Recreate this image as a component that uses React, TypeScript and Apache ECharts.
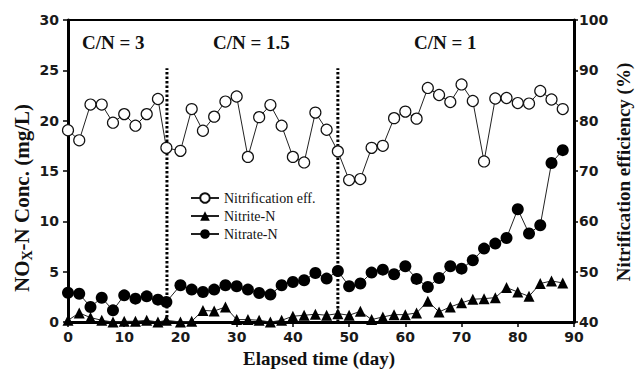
import React, { useEffect, useRef } from "react";
import * as echarts from "echarts";

const days = [0, 2, 4, 6, 8, 10, 12, 14, 16, 17.5, 20, 22, 24, 26, 28, 30, 32, 34, 36, 38, 40, 42, 44, 46, 48, 50, 52, 54, 56, 58, 60, 62, 64, 66, 68, 70, 72, 74, 76, 78, 80, 82, 84, 86, 88];
const efficiency = [78.1, 76.1, 83.2, 83.2, 79.6, 81.3, 79.0, 81.3, 84.3, 74.6, 74.0, 82.3, 78.0, 80.8, 83.8, 84.8, 72.8, 80.7, 83.1, 79.0, 72.8, 71.7, 81.6, 78.2, 73.9, 68.2, 68.4, 74.6, 75.0, 80.5, 81.8, 80.4, 86.5, 85.1, 83.7, 87.2, 83.9, 71.9, 84.4, 84.5, 83.5, 83.4, 85.9, 84.2, 82.3];
const nitrite = [0.17, 0.9, 0.44, 0.17, 0.0, 0.07, 0.07, 0.17, 0.0, 0.17, 0.0, 0.07, 1.15, 1.09, 1.49, 0.24, 0.24, 0.17, 0.0, 0.17, 0.57, 0.67, 0.77, 0.67, 0.83, 0.67, 1.06, 0.24, 0.5, 0.73, 0.73, 0.9, 2.06, 1.0, 1.5, 1.9, 2.26, 2.32, 2.42, 3.42, 2.98, 2.55, 3.82, 4.08, 3.88];
const nitrate = [2.9, 2.8, 1.49, 2.41, 1.16, 2.65, 2.32, 2.55, 2.22, 1.99, 3.65, 3.22, 2.98, 3.22, 3.65, 3.55, 3.22, 2.88, 2.72, 3.65, 3.98, 4.15, 4.87, 4.31, 5.07, 3.55, 3.82, 4.91, 5.2, 4.74, 5.54, 4.28, 3.48, 4.37, 5.54, 5.3, 6.13, 7.29, 7.79, 8.35, 11.2, 8.79, 9.61, 15.8, 17.07];
const phaseBoundaries = [17.6, 48];
const boundaryTop = 25.2;
const phaseLabels = ["C/N = 3", "C/N = 1.5", "C/N = 1"];
const seriesNames = ["Nitrification eff.", "Nitrite-N", "Nitrate-N"];

const SERIF = "'Liberation Serif', 'Times New Roman', serif";
const SANS = "'DejaVu Sans', sans-serif";

export default function App() {
  const ref = useRef<HTMLDivElement>(null);
  useEffect(() => {
    if (!ref.current) return;
    const chart = echarts.init(ref.current, undefined, { renderer: "svg" });
    const axisLabel = { fontFamily: SANS, fontWeight: "bold", fontSize: 14, color: "#1a1a1a" };
    const pair = (ys: number[]) => days.map((d, i) => [d, ys[i]]);
    const labelX = [82, 213, 414];
    const option: any = {
      animation: false,
      grid: { left: 68, right: 61, top: 20, bottom: 47, show: true, borderColor: "#000", borderWidth: 2, backgroundColor: "transparent" },
      legend: {
        orient: "vertical",
        left: 185,
        top: 186,
        itemWidth: 28,
        itemHeight: 12,
        itemGap: 4,
        data: seriesNames,
        textStyle: { fontFamily: SERIF, fontSize: 14, color: "#111" },
      },
      xAxis: {
        type: "value",
        min: 0,
        max: 90,
        interval: 10,
        splitLine: { show: false },
        axisLine: { onZero: false, lineStyle: { color: "#000", width: 3 } },
        axisTick: { inside: false, length: 5, lineStyle: { color: "#000", width: 1.5 } },
        axisLabel: { ...axisLabel, margin: 8 },
      },
      yAxis: [
        {
          type: "value",
          min: 0,
          max: 30,
          interval: 5,
          splitLine: { show: false },
          axisLine: { show: true, onZero: false, lineStyle: { color: "#000", width: 3 } },
          axisTick: { show: true, length: 5, lineStyle: { color: "#000", width: 1.5 } },
          axisLabel: { ...axisLabel, margin: 9 },
        },
        {
          type: "value",
          min: 40,
          max: 100,
          interval: 10,
          position: "right",
          splitLine: { show: false },
          axisLine: { show: true, onZero: false, lineStyle: { color: "#000", width: 3 } },
          axisTick: { show: true, length: 4, lineStyle: { color: "#000", width: 1.5 } },
          axisLabel: { ...axisLabel, margin: 5 },
        },
      ],
      graphic: [
        ...phaseLabels.map((t, i) => ({
          type: "text",
          x: labelX[i],
          y: 42,
          style: { text: t, fontFamily: SERIF, fontWeight: "bold", fontSize: 19, fill: "#111", align: "left", verticalAlign: "middle" },
        })),
        {
          type: "text",
          x: 22,
          y: 198,
          rotation: Math.PI / 2,
          style: {
            text: "NO{sub|X}-N Conc. (mg/L)",
            fontFamily: SERIF,
            fontWeight: "bold",
            fontSize: 21,
            lineHeight: 24,
            fill: "#111",
            align: "center",
            verticalAlign: "middle",
            rich: { sub: { fontFamily: SERIF, fontWeight: "bold", fontSize: 14, lineHeight: 14, verticalAlign: "bottom", fill: "#111" } },
          },
        },
        {
          type: "text",
          x: 623,
          y: 172,
          rotation: Math.PI / 2,
          style: { text: "Nitrification efficiency (%)", fontFamily: SERIF, fontWeight: "bold", fontSize: 19, fill: "#111", align: "center", verticalAlign: "middle" },
        },
        {
          type: "text",
          x: 319,
          y: 358,
          style: { text: "Elapsed time (day)", fontFamily: SERIF, fontWeight: "bold", fontSize: 19, fill: "#111", align: "center", verticalAlign: "middle" },
        },
      ],
      series: [
        ...phaseBoundaries.map((b) => ({
          type: "line",
          data: [[b, 0], [b, boundaryTop]],
          symbol: "none",
          yAxisIndex: 0,
          silent: true,
          z: 1,
          lineStyle: { color: "#000", width: 3, type: [2.5, 2], cap: "butt" },
        })),
        {
          name: seriesNames[0],
          type: "line",
          yAxisIndex: 1,
          data: pair(efficiency),
          symbol: "circle",
          symbolSize: 11,
          z: 3,
          lineStyle: { color: "#222", width: 1 },
          itemStyle: { color: "#fff", borderColor: "#111", borderWidth: 1.2 },
        },
        {
          name: seriesNames[1],
          type: "line",
          yAxisIndex: 0,
          data: pair(nitrite),
          symbol: "triangle",
          symbolSize: 11,
          z: 4,
          lineStyle: { color: "#222", width: 1 },
          itemStyle: { color: "#000" },
        },
        {
          name: seriesNames[2],
          type: "line",
          yAxisIndex: 0,
          data: pair(nitrate),
          symbol: "circle",
          symbolSize: 12,
          z: 4,
          lineStyle: { color: "#222", width: 1 },
          itemStyle: { color: "#000" },
        },
      ],
    };
    chart.setOption(option);
    return () => chart.dispose();
  }, []);
  return <div ref={ref} style={{ position: "fixed", left: 0, top: 0, width: 635, height: 369, background: "#fff" }} />;
}
